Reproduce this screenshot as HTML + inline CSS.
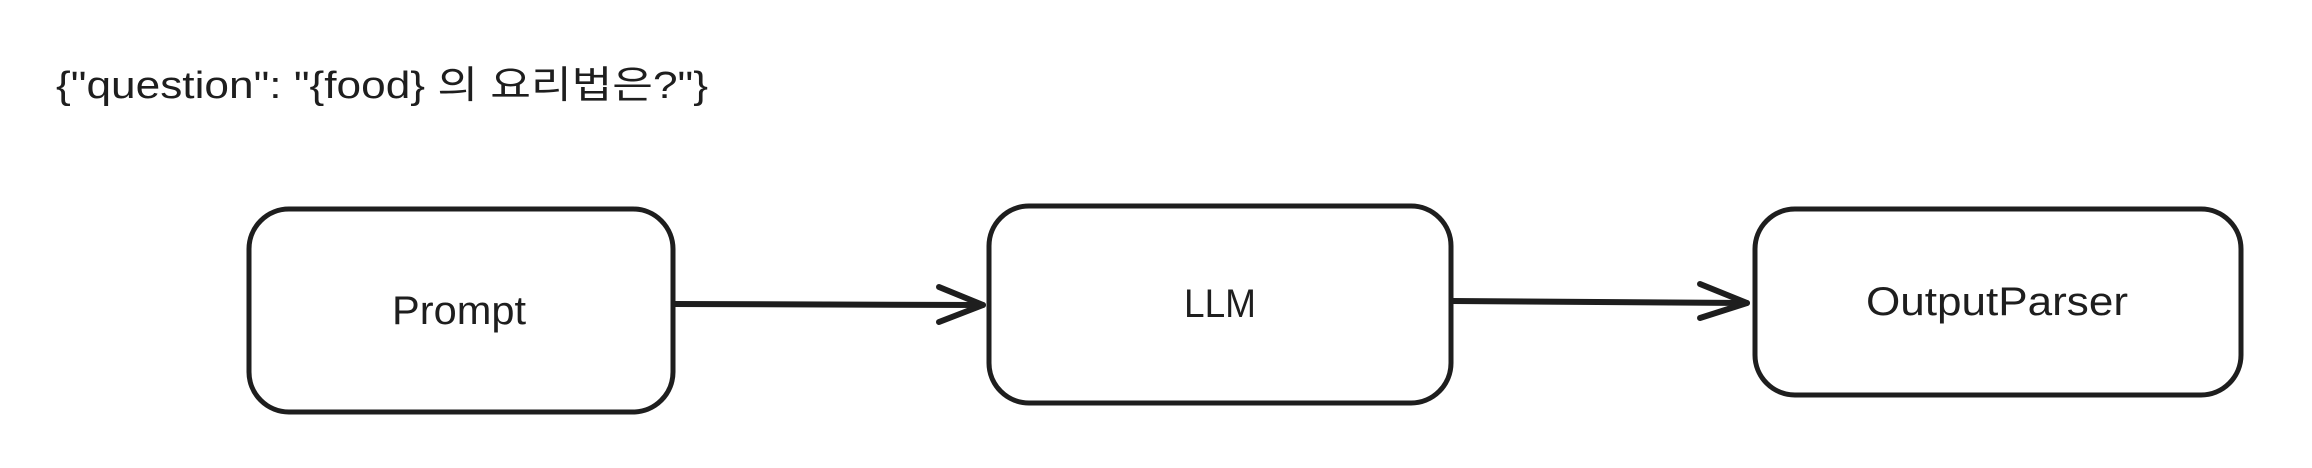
<!DOCTYPE html>
<html><head><meta charset="utf-8"><style>
html,body{margin:0;padding:0;background:#fff;}
svg{display:block;}
text{font-family:"Liberation Sans","Noto Sans CJK KR",sans-serif;fill:#1e1e1e;}
</style></head><body>
<svg width="2312" height="468" viewBox="0 0 2312 468">
<text x="56" y="98" font-size="38" textLength="652" lengthAdjust="spacingAndGlyphs">{"question": "{food} 의 요리법은?"}</text>
<g fill="none" stroke="#1e1e1e" stroke-width="5" stroke-linecap="round" stroke-linejoin="round">
<rect x="249" y="209" width="424" height="203" rx="40"/>
<rect x="989" y="206" width="462" height="197" rx="40"/>
<rect x="1755" y="209" width="486" height="186" rx="40"/>
<g>
<line x1="674" y1="304" x2="983" y2="305" stroke-width="6"/>
<polyline points="939,287 983,305 939,322" stroke-width="6"/>
</g>
<g>
<line x1="1452" y1="301" x2="1747" y2="303" stroke-width="6"/>
<polyline points="1700,284 1747,303 1700,318" stroke-width="6"/>
</g>
</g>
<text x="459" y="324" font-size="40" text-anchor="middle" textLength="134" lengthAdjust="spacingAndGlyphs">Prompt</text>
<text x="1220" y="317" font-size="40" text-anchor="middle" textLength="72" lengthAdjust="spacingAndGlyphs">LLM</text>
<text x="1997" y="315" font-size="40" text-anchor="middle" textLength="262" lengthAdjust="spacingAndGlyphs">OutputParser</text>
</svg>
</body></html>
